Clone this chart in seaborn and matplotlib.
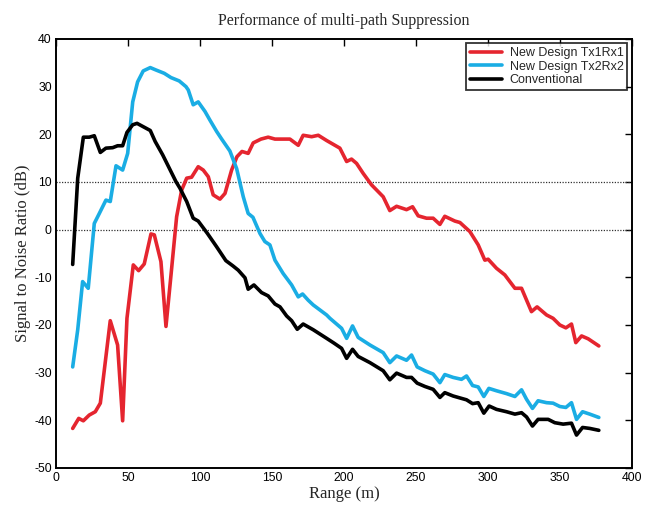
import numpy as np
import pandas as pd
import matplotlib
matplotlib.use("Agg")
import matplotlib.pyplot as plt
import seaborn as sns

# Range (m) and SNR (dB) for each receiver configuration
tx1rx1_range = [11.6, 15.8, 19.0, 23.1, 27.3, 30.8, 37.7, 42.8, 46.3, 49.3, 53.7, 57.4,
                61.3, 66.0, 68.3, 72.9, 76.4, 79.9, 83.8, 87.3, 90.8, 94.2, 98.8, 102.3,
                105.8, 109.2, 113.9, 117.4, 122.0, 125.7, 129.2, 133.5, 137.0, 142.4,
                147.4, 152.1, 162.5, 168.3, 171.7, 177.6, 182.2, 188.0, 197.2, 201.9,
                205.3, 208.8, 213.4, 219.2, 227.3, 231.9, 236.6, 243.5, 247.7, 251.6,
                257.4, 262.0, 266.7, 270.1, 277.1, 280.6, 287.5, 293.3, 297.9, 300.2,
                306.0, 311.8, 318.8, 323.4, 330.3, 334.2, 340.8, 345.3, 350.0, 354.2,
                358.1, 361.1, 365.1, 369.7, 377.1]
tx1rx1_snr = [-41.7, -39.6, -40.1, -38.9, -38.2, -36.4, -19.1, -24.2, -40.1, -18.6, -7.4, -8.6,
              -7.2, -0.9, -1.1, -6.7, -20.3, -9.5, 2.7, 8.3, 10.8, 11.0, 13.2, 12.5,
              11.1, 7.3, 6.4, 7.6, 12.5, 15.3, 16.4, 16.0, 18.2, 19.0,
              19.4, 19.0, 19.0, 17.7, 19.8, 19.5, 19.8, 18.7, 17.1, 14.3,
              14.8, 13.9, 11.8, 9.4, 6.9, 4.0, 4.9, 4.2, 4.8, 2.9,
              2.4, 2.4, 1.1, 2.8, 1.8, 1.5, -0.4, -3.2, -6.4, -6.2,
              -8.1, -9.5, -12.3, -12.3, -17.2, -16.2, -17.9, -18.6, -20.0, -20.6,
              -19.8, -23.7, -22.3, -22.9, -24.4]

tx2rx2_range = [11.6, 15.1, 18.5, 22.4, 26.6, 30.1, 34.7, 37.7, 41.7, 46.3, 49.8, 53.3,
                56.7, 60.6, 65.5, 69.4, 75.2, 79.9, 85.6, 90.3, 91.9, 95.3, 98.8, 103.5,
                106.9, 111.6, 115.1, 120.8, 125.5, 130.1, 133.5, 136.8, 141.7, 145.1,
                148.6, 152.1, 157.8, 163.7, 168.3, 171.3, 175.2, 178.7, 188.0, 190.3,
                198.4, 201.9, 206.0, 209.9, 218.1, 227.3, 231.9, 236.6, 243.5, 247.0,
                250.9, 256.3, 262.0, 266.7, 270.1, 275.9, 281.7, 285.2, 289.4, 293.3,
                297.2, 300.7, 306.0, 313.0, 318.8, 323.4, 326.9, 331.0, 334.9, 340.8,
                345.3, 350.0, 354.2, 358.1, 361.6, 365.8, 370.8, 377.1]
tx2rx2_snr = [-28.8, -21.0, -10.9, -12.3, 1.3, 3.4, 6.2, 5.9, 13.4, 12.5, 16.0, 26.8,
              31.0, 33.3, 34.0, 33.5, 32.8, 31.9, 31.2, 30.0, 29.3, 26.2, 26.8, 24.8,
              23.0, 20.6, 19.0, 16.5, 12.8, 6.9, 3.4, 2.6, -0.8, -2.5,
              -3.2, -6.4, -9.2, -11.6, -14.1, -13.5, -14.8, -15.8, -17.9, -18.6,
              -20.7, -22.8, -20.2, -22.6, -24.2, -25.8, -27.9, -26.5, -27.4, -26.3,
              -28.8, -29.6, -30.3, -32.1, -30.4, -31.0, -31.4, -30.7, -32.7, -33.0,
              -35.0, -33.3, -33.8, -34.4, -35.0, -33.6, -35.6, -37.5, -35.9, -36.3,
              -36.4, -37.1, -37.3, -36.3, -39.8, -38.2, -38.7, -39.4]

conv_range = [11.6, 15.1, 19.0, 23.1, 26.6, 30.8, 34.7, 39.4, 42.8, 46.3, 49.3, 53.3,
              56.3, 60.6, 65.5, 68.9, 74.1, 78.7, 83.3, 86.1, 90.8, 95.3, 98.8, 105.2,
              111.6, 118.0, 122.9, 126.6, 131.3, 133.5, 137.5, 142.8, 147.4, 152.1,
              155.6, 160.2, 163.7, 167.6, 171.7, 178.7, 188.0, 193.1, 198.4, 201.9,
              206.0, 209.9, 218.1, 227.3, 231.9, 236.6, 243.5, 247.0, 250.9, 256.3,
              262.0, 266.7, 270.1, 275.9, 281.7, 285.2, 289.4, 293.3, 297.2, 300.9,
              306.0, 313.0, 318.8, 323.4, 326.9, 331.0, 334.9, 341.9, 346.5, 352.3,
              358.1, 361.6, 365.8, 370.8, 377.1]
conv_snr = [-7.3, 10.8, 19.4, 19.4, 19.7, 16.2, 17.1, 17.2, 17.6, 17.6, 20.4, 22.0,
            22.3, 21.6, 20.8, 18.5, 15.7, 12.9, 10.1, 8.7, 5.9, 2.4, 1.8, -0.8,
            -3.6, -6.5, -7.6, -8.5, -10.1, -12.5, -11.6, -13.2, -13.9, -15.6,
            -16.2, -18.1, -19.1, -20.9, -19.8, -21.0, -22.8, -23.8, -24.9, -27.0,
            -25.1, -26.6, -27.9, -29.6, -31.5, -30.1, -31.0, -31.0, -32.2, -32.9,
            -33.5, -35.2, -34.2, -34.9, -35.4, -35.7, -36.5, -36.3, -38.5, -37.0,
            -37.7, -38.2, -38.7, -38.4, -39.3, -41.2, -39.8, -39.8, -40.5, -40.8,
            -40.6, -43.1, -41.5, -41.7, -42.1]

series_names = ["New Design Tx1Rx1", "New Design Tx2Rx2", "Conventional"]
series_colors = ["#E5252F", "#1AADE4", "#000000"]

x_ticks = [0, 50, 100, 150, 200, 250, 300, 350, 400]
y_ticks = [-50, -40, -30, -20, -10, 0, 10, 20, 30, 40]
ref_levels = [10, 0]

frames = []
for name, xs, ys in zip(series_names,
                        [tx1rx1_range, tx2rx2_range, conv_range],
                        [tx1rx1_snr, tx2rx2_snr, conv_snr]):
    frames.append(pd.DataFrame({"Range": xs, "SNR": ys, "Series": name}))
df = pd.concat(frames, ignore_index=True)

sns.set_theme(style="white")
plt.rcParams["font.family"] = ["Liberation Sans", "DejaVu Sans"]
plt.rcParams["axes.unicode_minus"] = False

fig = plt.figure(figsize=(6.48, 5.05), dpi=100)
ax = fig.add_axes([0.0864, 0.0733, 0.8886, 0.8495])

for lvl in ref_levels:
    ax.axhline(lvl, color="#333333", linestyle=(0, (1, 1.2)), linewidth=0.9, zorder=1)

sns.lineplot(data=df, x="Range", y="SNR", hue="Series", hue_order=series_names,
             palette=dict(zip(series_names, series_colors)), sort=False,
             estimator=None, linewidth=2.6, ax=ax, zorder=3)

ax.set_xlim(x_ticks[0], x_ticks[-1])
ax.set_ylim(y_ticks[0], y_ticks[-1])
ax.set_xticks(x_ticks)
ax.set_yticks(y_ticks)
ax.tick_params(direction="in", length=5, width=1, top=True, right=True,
               labelsize=8.8, colors="black", pad=3)
for sp in ax.spines.values():
    sp.set_color("black")
    sp.set_linewidth(1.4)

serif = ["Liberation Serif", "DejaVu Serif"]
ax.set_xlabel("Range (m)", family=serif, fontsize=12, labelpad=1)
ax.set_ylabel("Signal to Noise Ratio (dB)", family=serif, fontsize=12, labelpad=2)
ax.set_title("Performance of multi-path Suppression", family=serif, fontsize=11.5, pad=10)

leg = ax.legend(loc="upper right", fontsize=9, frameon=True, fancybox=False,
                borderaxespad=0.35, handlelength=2.6, handletextpad=0.6,
                borderpad=0.3, labelspacing=0.12)
leg.get_frame().set_edgecolor("black")
leg.get_frame().set_linewidth(1.3)
for line in leg.get_lines():
    line.set_linewidth(2.6)

fig.savefig("out.png", dpi=100)
